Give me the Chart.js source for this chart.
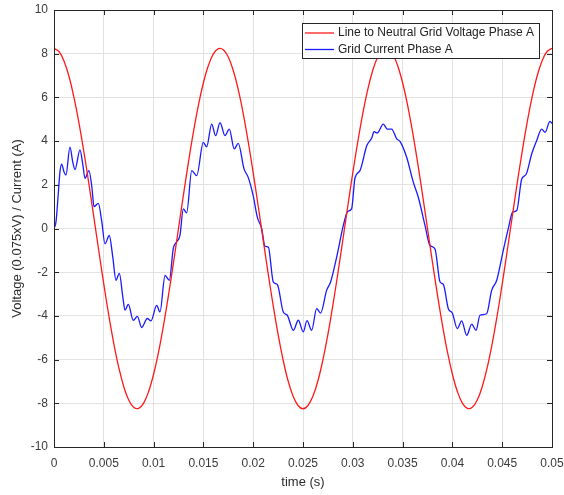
<!DOCTYPE html>
<html>
<head>
<meta charset="utf-8">
<script src="https://cdn.jsdelivr.net/npm/chart.js@4"></script>
<style>
  html, body { margin: 0; padding: 0; background: #fff; }
  #wrap { width: 564px; height: 495px; }
</style>
</head>
<body>
<div id="wrap"><canvas id="chart" width="564" height="495"></canvas></div>
<script>
const xTicks = [0, 0.005, 0.01, 0.015, 0.02, 0.025, 0.03, 0.035, 0.04, 0.045, 0.05];
const xTickLabels = ["0", "0.005", "0.01", "0.015", "0.02", "0.025", "0.03", "0.035", "0.04", "0.045", "0.05"];
const yTicks = [-10, -8, -6, -4, -2, 0, 2, 4, 6, 8, 10];

const seriesNames = ["Line to Neutral Grid Voltage Phase A", "Grid Current Phase A"];
const seriesColors = ["#ff1a1a", "#1a1aff"];

// voltage phase A, scaled by 0.075 (read every 0.5 ms)
const voltageTime = [
  0, 0.0005, 0.001, 0.0015, 0.002, 0.0025, 0.003, 0.0035, 0.004, 0.0045,
  0.005, 0.0055, 0.006, 0.0065, 0.007, 0.0075, 0.008, 0.0085, 0.009, 0.0095,
  0.01, 0.0105, 0.011, 0.0115, 0.012, 0.0125, 0.013, 0.0135, 0.014, 0.0145,
  0.015, 0.0155, 0.016, 0.0165, 0.017, 0.0175, 0.018, 0.0185, 0.019, 0.0195,
  0.02, 0.0205, 0.021, 0.0215, 0.022, 0.0225, 0.023, 0.0235, 0.024, 0.0245,
  0.025, 0.0255, 0.026, 0.0265, 0.027, 0.0275, 0.028, 0.0285, 0.029, 0.0295,
  0.03, 0.0305, 0.031, 0.0315, 0.032, 0.0325, 0.033, 0.0335, 0.034, 0.0345,
  0.035, 0.0355, 0.036, 0.0365, 0.037, 0.0375, 0.038, 0.0385, 0.039, 0.0395,
  0.04, 0.0405, 0.041, 0.0415, 0.042, 0.0425, 0.043, 0.0435, 0.044, 0.0445,
  0.045, 0.0455, 0.046, 0.0465, 0.047, 0.0475, 0.048, 0.0485, 0.049, 0.0495,
  0.05
];
const voltageValues = [
  8.25, 8.10, 7.67, 6.97, 6.01, 4.85, 3.51, 2.05, 0.52, -1.03,
  -2.55, -3.97, -5.26, -6.36, -7.23, -7.85, -8.18, -8.23, -7.99, -7.46,
  -6.67, -5.65, -4.42, -3.04, -1.55, 0.00, 1.55, 3.04, 4.42, 5.65,
  6.67, 7.46, 7.99, 8.23, 8.18, 7.85, 7.23, 6.36, 5.26, 3.97,
  2.55, 1.03, -0.52, -2.05, -3.51, -4.85, -6.01, -6.97, -7.67, -8.10,
  -8.25, -8.10, -7.67, -6.97, -6.01, -4.85, -3.51, -2.05, -0.52, 1.03,
  2.55, 3.97, 5.26, 6.36, 7.23, 7.85, 8.18, 8.23, 7.99, 7.46,
  6.67, 5.65, 4.42, 3.04, 1.55, 0.00, -1.55, -3.04, -4.42, -5.65,
  -6.67, -7.46, -7.99, -8.23, -8.18, -7.85, -7.23, -6.36, -5.26, -3.97,
  -2.55, -1.03, 0.52, 2.05, 3.51, 4.85, 6.01, 6.97, 7.67, 8.10,
  8.25
];

// grid current phase A (A)
const currentTime = [
  0, 0.0002, 0.00043, 0.0006, 0.00077, 0.001, 0.0012, 0.0016, 0.0019, 0.00211,
  0.00261, 0.0029, 0.00311, 0.00351, 0.0038, 0.00402, 0.00445, 0.0048, 0.00512, 0.00555,
  0.0059, 0.00622, 0.00656, 0.0069, 0.00713, 0.00746, 0.00796, 0.00837, 0.0088, 0.00937,
  0.00974, 0.01031, 0.01064, 0.01115, 0.01158, 0.01198, 0.0123, 0.01265, 0.01298, 0.01332,
  0.01383, 0.01433, 0.01499, 0.01533, 0.01583, 0.01623, 0.01667, 0.01717, 0.0176, 0.0181,
  0.0185, 0.01908, 0.0195, 0.02, 0.02041, 0.02085, 0.02118, 0.02152, 0.02202, 0.02242,
  0.02302, 0.02342, 0.02403, 0.02453, 0.02503, 0.0254, 0.02587, 0.02637, 0.02677, 0.02737,
  0.02777, 0.02838, 0.02905, 0.02948, 0.02988, 0.03022, 0.03072, 0.0314, 0.0319, 0.03213,
  0.03246, 0.03306, 0.03347, 0.0339, 0.03441, 0.03474, 0.03541, 0.03608, 0.03658, 0.03725,
  0.03775, 0.03825, 0.03876, 0.03909, 0.03959, 0.03999, 0.04049, 0.04093, 0.04144, 0.04194,
  0.04237, 0.04277, 0.04344, 0.04394, 0.04445, 0.04511, 0.04561, 0.04605, 0.04646, 0.04696,
  0.04739, 0.04796, 0.04846, 0.04896, 0.0493, 0.0498, 0.05
];
const currentValues = [
  0, 0.3, 1.6, 2.6, 2.95, 2.6, 2.45, 3.72, 3.0, 2.7,
  3.6, 2.9, 2.3, 2.65, 1.9, 1.0, 1.15, 0.3, -0.7, -0.32,
  -1.3, -2.37, -2.05, -3.1, -3.74, -3.47, -4.2, -4.02, -4.53, -4.12,
  -4.23, -3.52, -3.82, -2.15, -2.37, -0.9, -0.62, -0.3, 0.9, 0.72,
  2.65, 2.42, 3.94, 3.74, 4.78, 4.25, 4.85, 4.25, 4.55, 3.64,
  3.9, 2.73, 2.34, 1.5, 0.52, 0.0, -0.81, -0.85, -2.45, -2.56,
  -3.82, -3.97, -4.66, -4.2, -4.73, -4.22, -4.66, -3.67, -3.87, -2.83,
  -2.45, -1.31, 0.14, 0.78, 0.9, 2.31, 2.65, 3.79, 4.14, 4.43,
  4.37, 4.78, 4.55, 4.55, 4.1, 3.99, 3.26, 2.11, 1.43, 0.14,
  -0.78, -0.93, -2.45, -2.56, -3.67, -3.87, -4.58, -4.23, -4.89, -4.38,
  -4.66, -3.97, -3.9, -2.83, -2.37, -1.0, -0.01, 0.75, 0.82, 2.27,
  2.47, 3.41, 4.02, 4.55, 4.4, 4.9, 4.8
];

const pairs = (xs, ys) => xs.map((x, i) => ({ x, y: ys[i] }));

const AXIS_COLOR = "#262626";
const TEXT_COLOR = "#3a3a3a";
const FONT = "'Liberation Sans', Arial, Helvetica, sans-serif";

Chart.defaults.font.family = FONT;
Chart.defaults.font.size = 12;
Chart.defaults.color = TEXT_COLOR;

// box, inside tick marks, axis titles and legend, drawn like the original figure
const matlabFrame = {
  id: "matlabFrame",
  afterDatasetsDraw(chart) {
    const { ctx, chartArea: a, scales } = chart;
    ctx.save();
    ctx.strokeStyle = AXIS_COLOR;
    ctx.lineWidth = 1;
    ctx.beginPath();
    for (const v of xTicks) {
      const px = Math.round(scales.x.getPixelForValue(v)) + 0.5;
      ctx.moveTo(px, a.bottom); ctx.lineTo(px, a.bottom - 5);
      ctx.moveTo(px, a.top); ctx.lineTo(px, a.top + 5);
    }
    for (const v of yTicks) {
      const py = Math.round(scales.y.getPixelForValue(v)) + 0.5;
      ctx.moveTo(a.left, py); ctx.lineTo(a.left + 5, py);
      ctx.moveTo(a.right, py); ctx.lineTo(a.right - 5, py);
    }
    ctx.stroke();
    ctx.strokeRect(Math.round(a.left) + 0.5, Math.round(a.top) + 0.5,
      Math.round(a.right - a.left), Math.round(a.bottom - a.top));

    // legend
    const lx = 302, ly = 23, lw = 237, lh = 35;
    ctx.fillStyle = "#fff";
    ctx.fillRect(lx, ly, lw, lh);
    ctx.strokeStyle = AXIS_COLOR;
    ctx.strokeRect(lx + 0.5, ly + 0.5, lw, lh);
    ctx.font = "12px " + FONT;
    ctx.textBaseline = "middle";
    ctx.textAlign = "left";
    seriesNames.forEach((name, i) => {
      const y = ly + 10 + i * 16.5;
      ctx.strokeStyle = seriesColors[i];
      ctx.lineWidth = 1.3;
      ctx.beginPath();
      ctx.moveTo(305, y); ctx.lineTo(334, y);
      ctx.stroke();
      ctx.fillStyle = "#222";
      ctx.fillText(name, 338, y);
    });

    // axis titles
    ctx.fillStyle = "#2a2a2a";
    ctx.font = "13px " + FONT;
    ctx.textAlign = "center";
    ctx.textBaseline = "middle";
    ctx.fillText("time (s)", (a.left + a.right) / 2, 482);
    ctx.translate(17, (a.top + a.bottom) / 2);
    ctx.rotate(-Math.PI / 2);
    ctx.fillText("Voltage (0.075xV) / Current (A)", 0, 0);
    ctx.restore();
  }
};

new Chart(document.getElementById("chart"), {
  type: "line",
  data: {
    datasets: [
      {
        label: seriesNames[0],
        data: pairs(voltageTime, voltageValues),
        borderColor: seriesColors[0],
        borderWidth: 1.3,
        pointRadius: 0,
        tension: 0.4,
        fill: false
      },
      {
        label: seriesNames[1],
        data: pairs(currentTime, currentValues),
        borderColor: seriesColors[1],
        borderWidth: 1.3,
        pointRadius: 0,
        cubicInterpolationMode: "monotone",
        fill: false
      }
    ]
  },
  options: {
    responsive: false,
    animation: false,
    events: [],
    layout: { padding: { top: 10, right: 12, left: 0, bottom: 0 } },
    plugins: {
      legend: { display: false },
      tooltip: { enabled: false }
    },
    scales: {
      x: {
        type: "linear",
        min: 0,
        max: 0.05,
        afterBuildTicks: (s) => { s.ticks = xTicks.map((v) => ({ value: v })); },
        afterFit: (s) => { s.height = 48; s.paddingLeft = 0; s.paddingRight = 0; },
        ticks: {
          color: TEXT_COLOR,
          padding: 9,
          maxRotation: 0,
          autoSkip: false,
          callback: (v, i) => xTickLabels[i]
        },
        grid: { color: "#e2e2e2", drawTicks: false },
        border: { display: false }
      },
      y: {
        min: -10,
        max: 10,
        afterBuildTicks: (s) => { s.ticks = yTicks.map((v) => ({ value: v })); },
        afterFit: (s) => { s.width = 54; s.paddingTop = 0; s.paddingBottom = 0; },
        ticks: { color: TEXT_COLOR, padding: 6, autoSkip: false },
        grid: { color: "#e2e2e2", drawTicks: false },
        border: { display: false }
      }
    }
  },
  plugins: [matlabFrame]
});
</script>
</body>
</html>
